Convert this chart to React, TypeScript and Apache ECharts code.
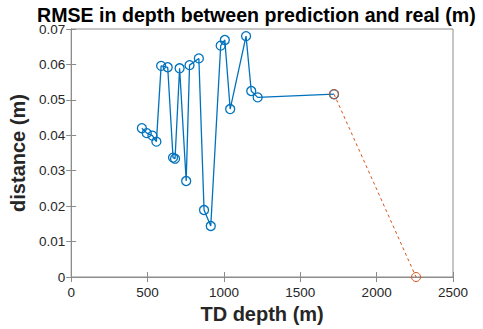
import React, { useEffect, useRef } from "react";
import * as echarts from "echarts";

const depth = [463, 495, 532, 558, 589, 632, 667, 680, 710, 753, 775, 836, 870, 914, 979, 1006, 1041, 1145, 1179, 1221, 1721];
const rmse = [0.042, 0.0406, 0.0399, 0.0382, 0.0596, 0.0592, 0.0337, 0.0334, 0.0589, 0.0271, 0.0598, 0.0617, 0.0189, 0.0144, 0.0653, 0.0669, 0.0474, 0.068, 0.0525, 0.0507, 0.0516];
const extDepth = [1721, 2258];
const extRmse = [0.0516, 0];
const xTicks = [0, 500, 1000, 1500, 2000, 2500];
const yTicks = [0, 0.01, 0.02, 0.03, 0.04, 0.05, 0.06, 0.07];

const FONT = "'Liberation Sans', Arial, Helvetica, sans-serif";
const AXIS = "#8c8c8c";
const TXT = "#262626";

export default function App() {
  const ref = useRef<HTMLDivElement>(null);
  useEffect(() => {
    const chart = echarts.init(ref.current!, null, { renderer: "svg" });
    const tickCommon = { show: true, inside: true, length: 5, lineStyle: { color: AXIS, width: 1 } };
    chart.setOption({
      animation: false,
      backgroundColor: "#fff",
      title: {
        text: "RMSE in depth between prediction and real (m)",
        left: 37,
        top: 5,
        padding: 0,
        textStyle: { fontFamily: FONT, fontSize: 19.6, fontWeight: "bold", color: "#000" },
      },
      grid: { left: 68, right: 30, top: 29, bottom: 52, show: true, borderColor: AXIS, borderWidth: 1 },
      xAxis: [
        {
          type: "value",
          min: xTicks[0],
          max: xTicks[xTicks.length - 1],
          interval: 500,
          name: "TD depth (m)",
          nameLocation: "middle",
          nameGap: 27,
          nameTextStyle: { fontFamily: FONT, fontSize: 20, fontWeight: "bold", color: TXT },
          axisLine: { show: true, lineStyle: { color: AXIS } },
          axisTick: tickCommon,
          axisLabel: { fontFamily: FONT, fontSize: 13.5, color: TXT, margin: 8, formatter: (v: number) => String(v) },
          splitLine: { show: false },
        },
        {
          type: "value",
          position: "top",
          min: xTicks[0],
          max: xTicks[xTicks.length - 1],
          interval: 500,
          axisLine: { show: true, lineStyle: { color: AXIS } },
          axisTick: tickCommon,
          axisLabel: { show: false },
          splitLine: { show: false },
        },
      ],
      yAxis: [
        {
          type: "value",
          min: yTicks[0],
          max: yTicks[yTicks.length - 1],
          interval: 0.01,
          name: "distance (m)",
          nameLocation: "middle",
          nameGap: 40,
          nameTextStyle: { fontFamily: FONT, fontSize: 20, fontWeight: "bold", color: TXT },
          axisLine: { show: true, lineStyle: { color: AXIS } },
          axisTick: tickCommon,
          axisLabel: {
            fontFamily: FONT,
            fontSize: 13.5,
            color: TXT,
            margin: 6,
            formatter: (v: number) => (v === 0 ? "0" : v.toFixed(2)),
          },
          splitLine: { show: false },
        },
        {
          type: "value",
          position: "right",
          min: yTicks[0],
          max: yTicks[yTicks.length - 1],
          interval: 0.01,
          axisLine: { show: true, lineStyle: { color: AXIS } },
          axisTick: tickCommon,
          axisLabel: { show: false },
          splitLine: { show: false },
        },
      ],
      series: [
        {
          type: "line",
          data: depth.map((d, i) => [d, rmse[i]]),
          symbol: "circle",
          symbolSize: 9,
          lineStyle: { color: "#0072BD", width: 1.3 },
          itemStyle: { color: "rgba(0,0,0,0)", borderColor: "#0072BD", borderWidth: 1.3 },
        },
        {
          type: "line",
          data: extDepth.map((d, i) => [d, extRmse[i]]),
          symbol: "circle",
          symbolSize: 9,
          lineStyle: { color: "#D95319", width: 1, type: [3, 3] },
          itemStyle: { color: "rgba(0,0,0,0)", borderColor: "#D95319", borderWidth: 1 },
        },
      ],
    });
    return () => chart.dispose();
  }, []);
  return <div ref={ref} style={{ width: 483, height: 329, position: "absolute", left: 0, top: 0 }} />;
}
